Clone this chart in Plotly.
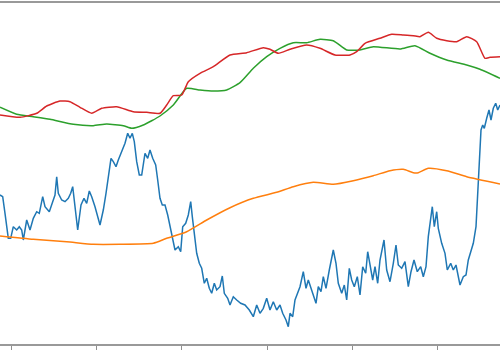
import plotly.graph_objects as go

# ---- data (x in sample units, y in value units) ----
blue_x = [0, 2.7, 5, 8.3, 10.7, 13.3, 16.7, 19.3, 21.7, 23.3, 26.7, 30, 33.3, 36.7, 39.3, 42.7, 45, 49.3,
          52.7, 55, 56.7, 58.3, 61.7, 65, 68.3, 70.7, 72.7, 75, 77.7, 81, 84, 86.7, 89.3, 91.7, 95, 100,
          103.3, 106, 108.3, 111, 113.3, 116, 118.3, 121.7, 125, 127.7, 130, 132.3, 134.3, 136.7, 139.3,
          141.7, 145, 147.7, 150, 152.7, 155.7, 157.7, 160, 162.3, 165, 167.7, 170, 172.3, 175, 178.3,
          180.7, 182.7, 185.7, 188.3, 190.7, 192.3, 194.3, 196.7, 199.3, 201.7, 204.3, 206.7, 209.3,
          211.7, 214.3, 216.7, 220, 222.3, 224.3, 227.7, 230, 233.3, 236.7, 240.7, 245, 249.3, 253.3,
          256.7, 260, 263.3, 266.7, 270, 273.3, 276.7, 280, 282.7, 286, 288.3, 290, 292.7, 295, 297.7,
          300, 303.3, 306, 308.3, 311, 313.3, 316, 318.3, 321, 323.3, 326, 329.3, 333.3, 336, 338.3,
          341.7, 344.3, 346.7, 349.3, 351.7, 354.3, 357.3, 360, 362.7, 365.7, 367.7, 370, 372.7, 375,
          377.7, 380, 384, 386.7, 390, 393.3, 396, 398.3, 401.7, 405, 408.3, 411, 414, 417.3, 420.7,
          423.3, 426, 428.3, 430.7, 432.3, 434.3, 436.7, 438.3, 441.7, 445, 447.3, 450.7, 453.3, 456,
          458.3, 460, 463.3, 466, 468.3, 471, 473.3, 476, 477.7, 479.3, 481, 482.7, 484.3, 486.7, 489,
          491, 493.3, 495.7, 497.7, 500]
blue_y = [149, 147.3, 130.7, 105.7, 105.7, 117.3, 114, 117.3, 114, 104, 124, 114, 125.7, 132.3, 130.7,
          147.3, 137.3, 132.3, 142.3, 149, 167.3, 150.7, 144, 142.3, 145.7, 150.7, 157.3, 134, 114, 139,
          145.7, 140.7, 153, 147.3, 137.3, 119, 134, 150.7, 169, 185.7, 182.3, 177.3, 184, 192.3, 200.7,
          210.7, 205.7, 210.7, 202.3, 182.3, 169, 169, 190.7, 185.7, 194, 185.7, 179, 164, 145.7, 139,
          139, 129, 117.3, 104, 94, 97.3, 92.3, 117.3, 120.7, 129, 142.3, 127.3, 107.3, 90.7, 80.7, 75.7,
          60.7, 65.7, 55.7, 50.7, 60.7, 54, 57.3, 68, 50.7, 45.7, 39, 47.3, 44, 40.7, 39, 34, 27.3, 39,
          30.7, 35.7, 45.7, 34, 42.3, 34, 39, 30.7, 24, 17.3, 30.7, 27.3, 44, 50.7, 57.3, 72.3, 55.7, 64,
          55.7, 50.7, 40.7, 57.3, 52.3, 67.3, 55.7, 74, 94, 80.7, 60.7, 50.7, 59, 44, 75.7, 64, 57.3,
          67.3, 49, 77.3, 70.7, 92.3, 80.7, 64, 77.3, 60.7, 84, 104, 74, 62.3, 80.7, 99, 79, 75.7, 82.3,
          57.3, 72.3, 84, 72.3, 77.3, 67.3, 77.3, 107.3, 124, 137.3, 117.3, 132.3, 115.7, 100.7, 90.7,
          74, 80.7, 74, 79, 67.3, 59, 67.3, 69, 84, 94, 100.7, 117.3, 147.3, 180.7, 214, 219, 215.7,
          225.7, 234, 224, 235.7, 240.7, 234, 239]

orange_x = [0, 33.3, 66.7, 93.3, 120, 153.3, 166.7, 186.7, 206.7, 230, 253.3, 276.7, 293.3, 313.3,
            333.3, 353.3, 373.3, 390, 403.3, 413.3, 418.3, 428.3, 446.7, 466.7, 500]
orange_y = [108, 104.7, 102.3, 99.7, 99.7, 100.7, 105.7, 112.3, 124, 136.3, 145.7, 151.7, 157.3, 161.7,
            159.7, 163.3, 168.3, 173.3, 174.7, 171.3, 171.3, 175.7, 173.3, 167.3, 160]

green_x = [0, 16.7, 33.3, 50, 73.3, 93.3, 106.7, 123.3, 131.7, 143.3, 160, 173.3, 186.7, 200, 213.3,
           226.7, 240, 253.3, 266.7, 280, 293.3, 306.7, 320, 333.3, 346.7, 360, 373.3, 400, 415, 430,
           446.7, 466.7, 480, 500]
green_y = [236.7, 229.7, 227.3, 224.7, 219.7, 218.3, 220, 218.3, 215.7, 219, 228, 239, 255.7, 254, 253,
           254, 261.3, 275.7, 287.3, 295.7, 301.3, 301.3, 304.7, 303.3, 294, 294, 297.3, 295, 298.3,
           290.7, 284, 279, 274.7, 265.7]

red_x = [0, 20, 36.7, 46.7, 60, 70, 80, 91.7, 101.7, 116.7, 133.3, 146.7, 160, 166.7, 173.3, 181.7,
         188.3, 200, 213.3, 230, 246.7, 263.3, 270, 278.3, 290, 306.7, 320, 335, 350, 356.7, 365, 380,
         391.7, 403.3, 413.3, 420, 428.3, 436.7, 446.7, 456.7, 466.7, 476.7, 485, 490, 500]
red_y = [229, 226.7, 230.7, 238, 243, 242.3, 236.7, 230.7, 235.7, 237.3, 232.3, 231.7, 230.7, 239,
         248.3, 249, 262.3, 270.7, 277.3, 289, 291.3, 296.3, 294.7, 290.7, 294.7, 299, 295.7, 289, 289,
         292.3, 300.7, 305.7, 309.7, 309, 308.3, 307.3, 311.7, 305.7, 303.3, 302.3, 307.3, 302.3,
         285.7, 286.7, 287.3]

tick_vals = [11, 96.3, 181.6, 267, 352.3, 437.6]

fig = go.Figure()
# smooth moving-average style curves use a gentle spline; the raw series stays linear
for xs, ys, col, shape in [(blue_x, blue_y, "#1f77b4", "linear"),
                           (orange_x, orange_y, "#ff7f0e", "spline"),
                           (green_x, green_y, "#2ca02c", "spline"),
                           (red_x, red_y, "#d62728", "spline")]:
    fig.add_trace(go.Scatter(x=xs, y=ys, mode="lines",
                             line=dict(color=col, width=1.5, shape=shape, smoothing=0.5),
                             hoverinfo="skip", showlegend=False))

fig.update_layout(
    width=500, height=350,
    margin=dict(l=0, r=0, t=3, b=6),
    paper_bgcolor="white", plot_bgcolor="white",
    xaxis=dict(range=[0, 500], showgrid=False, zeroline=False,
               showline=True, mirror=True, linecolor="#999999", linewidth=1.5,
               ticks="outside", ticklen=4, tickwidth=1, tickcolor="#8f8f8f",
               tickvals=tick_vals, showticklabels=False),
    yaxis=dict(range=[0, 341], showgrid=False, zeroline=False, showline=False,
               showticklabels=False, ticks=""),
)

fig.write_html("out.html")
